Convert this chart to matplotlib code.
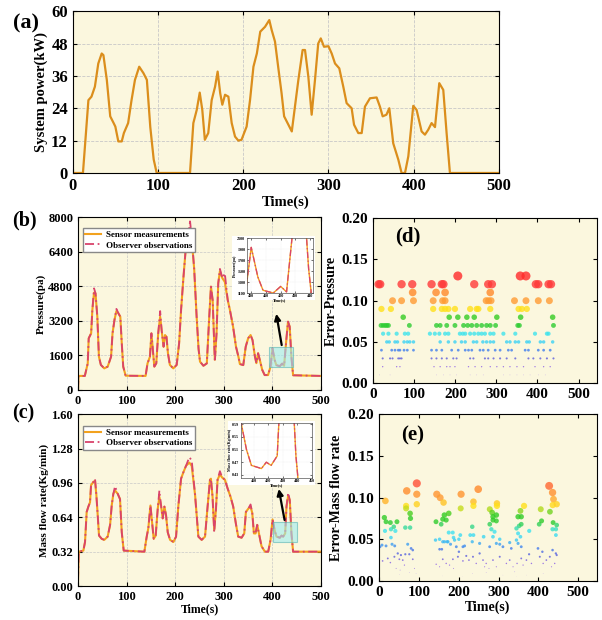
import numpy as np
import matplotlib
matplotlib.use("Agg")
import matplotlib.pyplot as plt
from matplotlib.colors import LinearSegmentedColormap, Normalize
from matplotlib.patches import Rectangle

# ---- (a) system power profile ----
t_power = [0, 12, 18.4, 22, 26, 30, 34, 36, 40, 44, 48, 50, 53.5, 57.5, 60, 65, 69, 73, 78, 83,
           87, 91, 95, 98.5, 137.6, 141.5, 145.5, 149, 152, 155, 159, 163, 167, 170, 173, 175.5,
           178.7, 182.6, 186.5, 190.4, 194.3, 198, 204, 208, 212, 216, 220, 225.6, 230.6, 233.4,
           237.3, 241, 245, 248, 253, 257, 260.7, 264.7, 269.7, 272.5, 276.4, 280.3, 284.2, 288,
           291, 294.8, 300, 303.8, 307.7, 312.7, 317.4, 321.3, 327.2, 330, 335, 339, 342.8, 348.7,
           356.5, 360.4, 363.6, 368, 371.4, 376, 382, 385.8, 389.8, 393.7, 399.5, 403.4, 409.3,
           413.2, 417, 421, 425, 430, 434.7, 438.6, 442.5, 500]
power_kw = [0, 0, 27, 28.3, 32, 40.6, 44.3, 43.7, 34.5, 21, 18.5, 17.2, 11.7, 11.7, 14.8, 18.5,
            27, 34.5, 39.4, 37, 34.5, 17, 5, 0, 0, 18.5, 23.4, 29.8, 23.4, 12.3, 14.8, 27, 32,
            37.6, 29.6, 25.3, 29, 28.3, 18.5, 13.5, 12, 12.3, 17.2, 27, 39.4, 44.3, 52.4, 54.2,
            56.7, 53, 48.7, 39.4, 29.6, 21, 17.9, 15.4, 24.6, 34.5, 45.6, 45.6, 35.7, 21.6, 34.5,
            48, 49.9, 46.8, 47, 44.3, 40.6, 38.8, 32, 25.9, 24, 17.9, 14.8, 14.8, 24.6, 27.7, 28,
            24.6, 21, 21.6, 24, 11, 4.9, 0, 0, 6.2, 24.9, 23.4, 15.4, 14.2, 16, 18.5, 17, 33.3,
            30.8, 14.8, 0, 0]

# ---- (b) pressure ----
t_press = [0, 1, 14, 20, 22, 27, 29.5, 33, 36, 39.7, 43, 47, 54, 61, 68, 71, 75, 79, 83, 87,
           90, 93, 98, 139, 143, 148, 151, 154, 157, 161, 165, 169, 172, 176, 179, 182, 185, 189,
           196, 203, 208, 212, 217, 222, 227, 230.5, 234, 239, 244, 248, 251, 258, 265, 270,
           273.5, 277, 281.5, 285, 288.5, 292, 297, 302, 308, 312.5, 319, 325, 330, 333, 340,
           345, 350, 355, 359, 364, 367, 370.5, 374, 379, 384, 391, 396, 400, 404.5, 408, 415,
           420, 424, 428.5, 432, 435.5, 439, 442.5, 500]
press_sensor = [0, 650, 650, 1230, 2390, 2620, 3700, 4500, 4470, 3390, 1540, 1160, 1000, 1080,
                1540, 2620, 3240, 3650, 3550, 3390, 2160, 1080, 660, 650, 1230, 1540, 2620, 1850,
                1080, 1230, 2620, 3390, 2770, 2000, 2540, 2460, 1700, 1160, 1000, 1160, 2160,
                3700, 5240, 6630, 7090, 7350, 6930, 5600, 3400, 1900, 1310, 1120, 1230, 3390,
                4780, 4160, 1400, 2620, 4930, 5500, 5170, 5000, 4160, 3700, 2930, 2000, 1540,
                1200, 1150, 2000, 2390, 2540, 2310, 1540, 1240, 1700, 1390, 930, 690, 690, 1080,
                1930, 1390, 1150, 1100, 1220, 1120, 2310, 3160, 2930, 1540, 680, 650]
press_observer = [0, 650, 650, 1230, 2390, 2620, 3700, 4700, 4470, 3390, 1540, 1160, 1000, 1080,
                  1540, 2620, 3240, 3750, 3550, 3390, 2160, 1080, 660, 650, 1230, 1540, 2620, 1850,
                  1080, 1230, 2620, 3650, 2770, 2000, 2540, 2460, 1700, 1160, 1000, 1160, 2160,
                  3700, 5240, 6630, 7200, 7800, 7050, 5600, 3400, 1900, 1310, 1120, 1230, 3390,
                  4780, 4160, 1300, 2620, 4930, 5600, 5170, 5400, 4160, 3700, 2930, 2000, 1540,
                  1200, 1150, 2000, 2390, 2540, 2310, 1540, 1240, 1700, 1390, 930, 690, 690, 1080,
                  1930, 1390, 1150, 1100, 1220, 1120, 2310, 3160, 2930, 1540, 680, 650]

# ---- (c) mass flow rate ----
t_flow = [0, 1.5, 11, 14.4, 17.8, 21.3, 24.7, 26.8, 31.6, 35, 37.7, 40.5, 43.2, 48.7, 54, 61, 66,
          69.3, 72.7, 76.2, 81.6, 86.4, 90, 94, 136.5, 141.3, 144.7, 149, 151.6, 155.7, 159.8,
          164, 167.4, 170.8, 174.2, 177.7, 181.1, 184.6, 189.4, 196.2, 201.7, 206.5, 212, 216.8,
          222.2, 229, 233.9, 240.8, 247.6, 254.4, 261.3, 266, 271.5, 273.4, 276.8, 280.2, 283.7,
          287.1, 291.9, 296.7, 302.2, 307.7, 313.9, 319.3, 324.8, 329.6, 336.5, 342, 345.4,
          350.2, 355, 358.5, 361.9, 365.3, 368.7, 372.2, 377.6, 384.5, 391.3, 396.1, 400.2, 405,
          408.4, 415.3, 418.7, 422, 426.2, 428.9, 432.3, 435.7, 439.1, 442.5, 500]
flow_sensor = [0.05, 0.32, 0.33, 0.41, 0.69, 0.74, 0.78, 0.94, 0.97, 0.98, 0.85, 0.66, 0.47, 0.44,
               0.43, 0.46, 0.57, 0.75, 0.86, 0.89, 0.86, 0.81, 0.50, 0.33, 0.32, 0.46, 0.54, 0.75,
               0.63, 0.44, 0.47, 0.72, 0.83, 0.75, 0.63, 0.74, 0.66, 0.50, 0.43, 0.41, 0.46, 0.75,
               1.00, 1.06, 1.12, 1.15, 1.12, 0.85, 0.46, 0.43, 0.46, 0.71, 0.99, 1.00, 0.83, 0.52,
               0.71, 0.99, 1.04, 1.01, 0.99, 0.91, 0.83, 0.74, 0.58, 0.46, 0.45, 0.49, 0.69, 0.72,
               0.74, 0.68, 0.49, 0.49, 0.57, 0.49, 0.37, 0.32, 0.32, 0.43, 0.62, 0.51, 0.46, 0.45,
               0.47, 0.46, 0.49, 0.74, 0.84, 0.80, 0.49, 0.32, 0.32]
flow_observer = [0.05, 0.32, 0.33, 0.41, 0.69, 0.74, 0.78, 0.94, 0.97, 1.00, 0.85, 0.66, 0.47, 0.44,
                 0.43, 0.46, 0.57, 0.75, 0.86, 0.93, 0.86, 0.81, 0.50, 0.33, 0.32, 0.46, 0.54, 0.75,
                 0.63, 0.44, 0.47, 0.72, 0.89, 0.75, 0.63, 0.74, 0.66, 0.50, 0.43, 0.41, 0.46, 0.75,
                 1.00, 1.06, 1.12, 1.20, 1.17, 0.85, 0.46, 0.43, 0.46, 0.71, 0.99, 1.00, 0.83, 0.50,
                 0.71, 0.99, 1.07, 1.01, 0.99, 0.91, 0.83, 0.74, 0.58, 0.46, 0.45, 0.49, 0.69, 0.72,
                 0.76, 0.68, 0.49, 0.49, 0.57, 0.49, 0.37, 0.32, 0.32, 0.43, 0.62, 0.51, 0.46, 0.45,
                 0.47, 0.46, 0.49, 0.74, 0.87, 0.80, 0.49, 0.32, 0.32]

# ---- (d) pressure error, one row per error level ----
err_p_t = (
    [206, 358, 372] +
    [13, 17, 69, 95, 142, 167, 171, 246, 280, 289, 396, 402, 427, 433] +
    [96, 153, 175, 285] +
    [47, 69, 98, 146, 169, 175, 275, 281, 287, 344, 372, 402, 429] +
    [20, 43, 146, 167, 175, 183, 199, 236, 252, 256, 285, 354, 362, 374] +
    [73, 185, 206, 228, 246, 301, 359, 437] +
    [19, 24, 29, 33, 37, 88, 154, 163, 179, 199, 220, 230, 240, 252, 264, 276, 285, 298, 352,
     356, 439] +
    [24, 37, 57, 77, 85, 138, 150, 161, 175, 183, 211, 218, 224, 236, 246, 256, 264, 272, 285,
     293, 317, 346, 394, 423, 427] +
    [33, 39, 53, 59, 75, 83, 89, 98, 163, 183, 199, 215, 224, 244, 252, 267, 276, 285, 293, 325,
     333, 346, 354, 374, 380, 407, 415, 437] +
    [20, 45, 53, 61, 65, 75, 83, 98, 142, 154, 167, 191, 207, 224, 232, 240, 260, 268, 280, 297,
     309, 329, 337, 370, 378, 402, 415, 431] +
    [23, 41, 47, 61, 65, 69, 142, 154, 167, 179, 195, 203, 236, 244, 272, 280, 293, 309, 325,
     346, 378, 390, 407, 423, 439] +
    [23, 57, 65, 148, 163, 179, 187, 199, 232, 248, 264, 285, 301, 317, 333, 350, 366, 394, 415,
     431] +
    [15, 41, 154, 171, 187, 203, 236, 252, 268, 317, 333, 350, 366, 382, 402, 419]
)
err_p_v = ([0.13] * 3 + [0.12] * 14 + [0.11] * 4 + [0.10] * 13 + [0.09] * 14 + [0.08] * 8 +
           [0.07] * 21 + [0.06] * 25 + [0.05] * 28 + [0.04] * 28 + [0.03] * 25 + [0.02] * 20 +
           [0.01] * 16)

# ---- (e) mass flow error ----
err_m_t = [94.8, 69.6, 94.8, 145, 153.5, 206, 249, 427, 435.6,
           16, 68, 68, 94.8, 162, 205, 237, 237, 278, 284, 296, 296, 355, 364, 406, 429, 438, 436,
           446, 78,
           13.4, 17.6, 28.5, 45, 79, 143, 156, 160, 164, 168.6, 175, 278, 286, 286, 294.5, 294.5,
           349, 357, 351.6, 357, 402, 408, 437, 446,
           15, 30, 37, 41, 30, 66, 78, 152, 164.5, 173, 175, 185, 187, 200.5, 204, 234, 229, 237,
           262.6, 282, 286, 290, 303, 345, 349, 355, 377, 435.6, 444, 444,
           2.5, 7.5, 17.6, 32.7, 39.4, 72, 80.5, 84.7, 141.8, 152, 157.7, 160, 171, 179.5, 189.6,
           194, 210.6, 214.8, 200.5, 234, 252.5, 277.7, 294.5, 303, 311, 328, 332, 345, 349, 357,
           399, 410, 435.6, 446,
           9, 22, 28.5, 38.6, 47, 51, 55, 59.6, 63.8, 66, 76, 84.7, 89, 93, 53, 43, 143.5, 152,
           160, 168.6, 177, 185.4, 187, 198, 210.6, 219, 225.7, 235.8, 244, 252.5, 261, 265, 269,
           276, 286, 294.5, 303, 319.7, 328, 336.4, 340.6, 346.5, 357, 361.6, 370, 376.7, 382.6,
           403.6, 412, 420, 428.7, 433, 441, 443.8,
           51, 76, 160, 210, 235, 269, 311, 345, 370, 412]
err_m_v = [0.117, 0.108, 0.104, 0.104, 0.0998, 0.104, 0.110, 0.114, 0.106,
           0.096, 0.090, 0.087, 0.092, 0.094, 0.087, 0.095, 0.090, 0.086, 0.082, 0.093, 0.090,
           0.084, 0.090, 0.086, 0.083, 0.098, 0.091, 0.092, 0.081,
           0.076, 0.071, 0.070, 0.071, 0.075, 0.071, 0.068, 0.074, 0.079, 0.073, 0.081, 0.068,
           0.073, 0.077, 0.079, 0.072, 0.077, 0.077, 0.066, 0.068, 0.068, 0.072, 0.070, 0.067,
           0.060, 0.062, 0.065, 0.060, 0.052, 0.064, 0.064, 0.050, 0.047, 0.047, 0.058, 0.058,
           0.052, 0.050, 0.055, 0.065, 0.055, 0.055, 0.053, 0.062, 0.053, 0.059, 0.050, 0.063,
           0.057, 0.053, 0.060, 0.062, 0.062, 0.055,
           0.041, 0.043, 0.042, 0.044, 0.042, 0.044, 0.039, 0.037, 0.049, 0.038, 0.038, 0.047,
           0.047, 0.044, 0.049, 0.041, 0.041, 0.042, 0.035, 0.047, 0.045, 0.041, 0.045, 0.044,
           0.041, 0.046, 0.039, 0.049, 0.045, 0.041, 0.039, 0.035, 0.037, 0.031,
           0.024, 0.027, 0.022, 0.029, 0.033, 0.026, 0.031, 0.025, 0.019, 0.032, 0.032, 0.026,
           0.015, 0.009, 0.013, 0.015, 0.020, 0.017, 0.026, 0.021, 0.019, 0.026, 0.015, 0.029,
           0.024, 0.030, 0.025, 0.029, 0.021, 0.033, 0.025, 0.017, 0.021, 0.015, 0.025, 0.017,
           0.029, 0.021, 0.025, 0.017, 0.011, 0.021, 0.027, 0.019, 0.025, 0.032, 0.021, 0.029,
           0.021, 0.025, 0.029, 0.017, 0.021, 0.033,
           0.008, 0.010, 0.006, 0.005, 0.009, 0.010, 0.007, 0.005, 0.007, 0.009]

# ---- style ----
plt.rcParams['font.family'] = 'serif'
plt.rcParams['font.serif'] = ['Liberation Serif', 'DejaVu Serif']
plt.rcParams['font.weight'] = 'bold'
plt.rcParams['axes.labelweight'] = 'bold'
plt.rcParams['axes.linewidth'] = 0.8

BG = '#FBF7DE'
C_POWER = '#DB8E1C'
C_SENSOR = '#F2A21E'
C_OBS = '#D9436B'

err_cmap = LinearSegmentedColormap.from_list('err', [
    (0.0, '#cdb8f2'), (0.02 / 0.13, '#8a5ae6'), (0.03 / 0.13, '#5b5bdc'),
    (0.04 / 0.13, '#3f7fee'), (0.05 / 0.13, '#3ad2f5'), (0.06 / 0.13, '#3ee4f0'),
    (0.07 / 0.13, '#2ecc2e'), (0.08 / 0.13, '#33cc22'), (0.09 / 0.13, '#ffe21a'),
    (0.10 / 0.13, '#ff9a33'), (0.11 / 0.13, '#ff8a2a'), (0.12 / 0.13, '#ff3a3a'),
    (1.0, '#ff2a2a')])
err_norm = Normalize(0, 0.13)


def style_axes(ax, size):
    ax.set_facecolor(BG)
    ax.tick_params(direction='in', top=True, right=True, length=3, width=0.8,
                   labelsize=size)
    for lab in ax.get_xticklabels() + ax.get_yticklabels():
        lab.set_fontweight('bold')


def draw_zoom(ax, inset, t, sensor, observer, rect, arrow_from, arrow_to):
    ax.add_patch(Rectangle(rect[:2], rect[2], rect[3], facecolor='#9fecef', alpha=0.6,
                           edgecolor='#58b5b5', lw=0.8, zorder=4))
    ax.annotate('', xy=arrow_to, xytext=arrow_from,
                arrowprops=dict(arrowstyle='-|>', color='black', lw=1.6,
                                mutation_scale=9), zorder=6)
    inset.plot(t, sensor, color=C_SENSOR, lw=1.0)
    inset.plot(t, observer, color=C_OBS, lw=0.9, dashes=(5, 2, 1, 2))
    inset.set_facecolor('white')
    inset.grid(True, color='#dddddd', lw=0.3, ls=':')
    inset.tick_params(direction='in', top=True, right=True, length=1.5, width=0.4,
                      labelsize=3, pad=1)
    for s in inset.spines.values():
        s.set_linewidth(0.5)
        s.set_color('#555555')
    inset.set_xlabel('Time(s)', fontsize=3, labelpad=0)


def add_legend(ax):
    ax.legend(loc='upper left', fontsize=6.5, frameon=True, fancybox=False,
              edgecolor='#888888', framealpha=1, handlelength=1.8, handletextpad=0.5,
              borderpad=0.3, labelspacing=0.2, bbox_to_anchor=(0.0, 0.96))


fig = plt.figure(figsize=(6.02, 6.20), dpi=100)

# (a)
ax_a = fig.add_axes([0.1208, 0.721, 0.708, 0.261])
ax_a.plot(t_power, power_kw, color=C_POWER, lw=1.6)
ax_a.set_xlim(0, 500)
ax_a.set_ylim(0, 60)
ax_a.set_xticks(np.arange(0, 501, 100))
ax_a.set_yticks(np.arange(0, 61, 12))
ax_a.grid(True, color='#c8c8c8', ls='--', lw=0.6)
ax_a.set_xlabel('Time(s)', fontsize=10.5, labelpad=1)
ax_a.set_ylabel('System power(kW)', fontsize=10.5, labelpad=2)
style_axes(ax_a, 12)
fig.text(0.022, 0.962, '(a)', fontsize=16, fontweight='bold', va='center')

# (b)
ax_b = fig.add_axes([0.1296, 0.371, 0.4037, 0.279])
ax_b.plot(t_press, press_sensor, color=C_SENSOR, lw=1.5, label='Sensor measurements')
ax_b.plot(t_press, press_observer, color=C_OBS, lw=1.3, dashes=(5, 2, 1, 2),
          label='Observer observations')
ax_b.set_xlim(0, 500)
ax_b.set_ylim(0, 8000)
ax_b.set_xticks(np.arange(0, 501, 100))
ax_b.set_yticks(np.arange(0, 8001, 1600))
ax_b.grid(True, color='#c8c8c8', ls='--', lw=0.5)
ax_b.set_ylabel('Pressure(pa)', fontsize=8, labelpad=2)
style_axes(ax_b, 9)
add_legend(ax_b)
fig.text(0.02, 0.645, '(b)', fontsize=14.5, fontweight='bold', va='center')

fig.patches.append(Rectangle((0.3854, 0.516), 0.1379, 0.1032, transform=fig.transFigure,
                             facecolor='white', edgecolor='none', zorder=1))
ins_b = fig.add_axes([0.410, 0.5274, 0.110, 0.0887], zorder=2)
draw_zoom(ax_b, ins_b, t_press, press_sensor, press_observer,
          (393, 1060, 50, 930), (420, 1950), (407, 3650))
ins_b.set_xlim(397, 442)
ins_b.set_ylim(1100, 2100)
ins_b.set_xticks(np.arange(400, 441, 10))
ins_b.set_yticks(np.arange(1100, 2101, 200))
ins_b.set_ylabel('Pressure(pa)', fontsize=3, labelpad=0)

# (c)
ax_c = fig.add_axes([0.1296, 0.0548, 0.4037, 0.277])
ax_c.plot(t_flow, flow_sensor, color=C_SENSOR, lw=1.5, label='Sensor measurements')
ax_c.plot(t_flow, flow_observer, color=C_OBS, lw=1.3, dashes=(5, 2, 1, 2),
          label='Observer observations')
ax_c.set_xlim(0, 500)
ax_c.set_ylim(0, 1.6)
ax_c.set_xticks(np.arange(0, 501, 100))
ax_c.set_yticks(np.arange(0, 1.61, 0.32))
ax_c.yaxis.set_major_formatter('{x:.2f}')
ax_c.grid(True, color='#c8c8c8', ls='--', lw=0.5)
ax_c.set_xlabel('Time(s)', fontsize=8.5, labelpad=0)
ax_c.set_ylabel('Mass flow rate(Kg/min)', fontsize=8, labelpad=2)
style_axes(ax_c, 9)
add_legend(ax_c)
fig.text(0.02, 0.333, '(c)', fontsize=14.5, fontweight='bold', va='center')

fig.patches.append(Rectangle((0.3787, 0.2177), 0.1445, 0.1032, transform=fig.transFigure,
                             facecolor='white', edgecolor='none', zorder=1))
ins_c = fig.add_axes([0.3998, 0.229, 0.118, 0.0892], zorder=2)
draw_zoom(ax_c, ins_c, t_flow, flow_sensor, flow_observer,
          (401, 0.41, 50, 0.19), (426, 0.59), (412, 0.93))
ins_c.set_xlim(401, 450)
ins_c.set_ylim(0.42, 0.595)
ins_c.set_xticks(np.arange(410, 451, 10))
ins_c.set_yticks(np.arange(0.43, 0.60, 0.04))
ins_c.set_ylabel('Mass flow rate(Kg/min)', fontsize=3, labelpad=0)

# (d)
ax_d = fig.add_axes([0.620, 0.382, 0.3717, 0.266])
v = np.array(err_p_v)
ax_d.scatter(err_p_t, v, s=2500 * v ** 2, c=v, cmap=err_cmap, norm=err_norm, alpha=0.8,
             linewidths=0)
ax_d.set_xlim(0, 545)
ax_d.set_ylim(0, 0.2)
ax_d.set_xticks(np.arange(0, 501, 100))
ax_d.set_yticks(np.arange(0, 0.201, 0.05))
ax_d.yaxis.set_major_formatter('{x:.2f}')
ax_d.set_ylabel('Error-Pressure', fontsize=10, labelpad=3)
style_axes(ax_d, 11)
ax_d.text(0.1, 0.86, '(d)', transform=ax_d.transAxes, fontsize=15, fontweight='bold')

# (e)
ax_e = fig.add_axes([0.6296, 0.063, 0.362, 0.269])
v = np.array(err_m_v)
ax_e.scatter(err_m_t, v, s=2500 * v ** 2, c=v, cmap=err_cmap, norm=err_norm, alpha=0.8,
             linewidths=0)
ax_e.set_xlim(0, 547)
ax_e.set_ylim(0, 0.2)
ax_e.set_xticks(np.arange(0, 501, 100))
ax_e.set_yticks(np.arange(0, 0.201, 0.05))
ax_e.yaxis.set_major_formatter('{x:.2f}')
ax_e.set_xlabel('Time(s)', fontsize=10, labelpad=1)
ax_e.set_ylabel('Error-Mass flow rate', fontsize=10, labelpad=3)
style_axes(ax_e, 11)
ax_e.text(0.1, 0.84, '(e)', transform=ax_e.transAxes, fontsize=15, fontweight='bold')

fig.savefig('out.png', dpi=100)
